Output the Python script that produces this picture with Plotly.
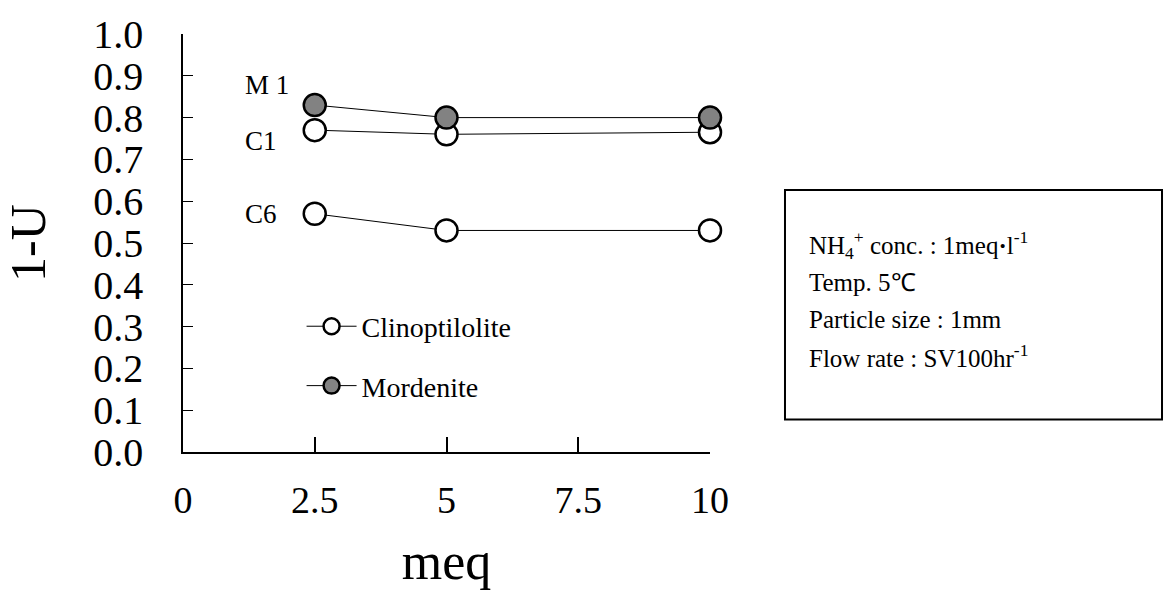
import plotly.graph_objects as go

# Exchange capacity (meq) and the resulting 1-U values
meq = [2.5, 5, 10]
clino_c1 = [0.77, 0.76, 0.765]
clino_c6 = [0.57, 0.53, 0.53]
mordenite_m1 = [0.83, 0.80, 0.80]

x_ticks = [0, 2.5, 5, 7.5, 10]
x_tick_text = ["0", "2.5", "5", "7.5", "10"]
y_ticks = [round(i * 0.1, 1) for i in range(11)]
y_tick_text = [f"{v:.1f}" for v in y_ticks]

conditions = [
    "NH<sub>4</sub><sup>+</sup> conc. : 1meq<b>·</b>l<sup>-1</sup>",
    "Temp. 5℃",
    "Particle size : 1mm",
    "Flow rate : SV100hr<sup>-1</sup>",
]

SERIF = "Liberation Serif"

fig = go.Figure()

open_marker = dict(symbol="circle", size=22, color="white",
                   line=dict(color="black", width=2.5))
filled_marker = dict(symbol="circle", size=22, color="#828282",
                     line=dict(color="black", width=2.5))
thin_line = dict(color="black", width=1)

fig.add_trace(go.Scatter(x=meq, y=clino_c1, mode="lines+markers", name="Clinoptilolite",
                         marker=open_marker, line=thin_line, cliponaxis=False,
                         legendgroup="c", legendrank=1))
fig.add_trace(go.Scatter(x=meq, y=clino_c6, mode="lines+markers", name="Clinoptilolite",
                         marker=open_marker, line=thin_line, cliponaxis=False,
                         showlegend=False, legendgroup="c"))
fig.add_trace(go.Scatter(x=meq, y=mordenite_m1, mode="lines+markers", name="Mordenite",
                         marker=filled_marker, line=thin_line, cliponaxis=False,
                         legendgroup="m", legendrank=2))

# Series tags to the left of the first point of each curve
tags = [("M 1", mordenite_m1[0], 20), ("C1", clino_c1[0], -11), ("C6", clino_c6[0], 0)]
for text, yv, dy in tags:
    fig.add_annotation(x=meq[0], y=yv, text=text, showarrow=False, xanchor="left",
                       xshift=-72, yshift=dy, font=dict(family=SERIF, size=27, color="black"))

# Experimental conditions box
fig.add_shape(type="rect", xref="paper", yref="paper", x0=1.1423, x1=1.8577,
              y0=0.0776, y1=0.627, line=dict(color="black", width=2))
for text, yp in zip(conditions, [0.496, 0.405, 0.318, 0.229]):
    fig.add_annotation(xref="paper", yref="paper", x=1.184, y=yp, text=text,
                       showarrow=False, xanchor="left", yanchor="middle", align="left",
                       font=dict(family=SERIF, size=25, color="black"))

fig.update_layout(
    width=1164, height=599,
    margin=dict(l=183, r=454, t=27, b=147),
    paper_bgcolor="white", plot_bgcolor="white",
    font=dict(family=SERIF, color="black"),
    showlegend=True,
    legend=dict(x=0.225, y=0.36, xanchor="left", yanchor="top", itemwidth=50,
                font=dict(family=SERIF, size=28, color="black"),
                bgcolor="rgba(0,0,0,0)", tracegroupgap=20, traceorder="grouped"),
    xaxis=dict(range=[0, 10], tickvals=x_ticks, ticktext=x_tick_text,
               showline=True, linecolor="black", linewidth=1.5, showgrid=False,
               zeroline=False, ticks="inside", ticklen=15, tickcolor="black",
               tickwidth=1.5, ticklabelstandoff=14,
               tickfont=dict(family=SERIF, size=38, color="black"),
               title=dict(text="meq", font=dict(family=SERIF, size=52, color="black"),
                          standoff=22)),
    yaxis=dict(range=[0, 1], tickvals=y_ticks, ticktext=y_tick_text,
               showline=True, linecolor="black", linewidth=1.5, showgrid=False,
               zeroline=False, ticks="inside", ticklen=10, tickcolor="black",
               tickwidth=1.2, ticklabelstandoff=30,
               tickfont=dict(family=SERIF, size=40, color="black"),
               title=dict(text="1-U", font=dict(family=SERIF, size=50, color="black"),
                          standoff=44)),
)

fig.write_html("out.html")
